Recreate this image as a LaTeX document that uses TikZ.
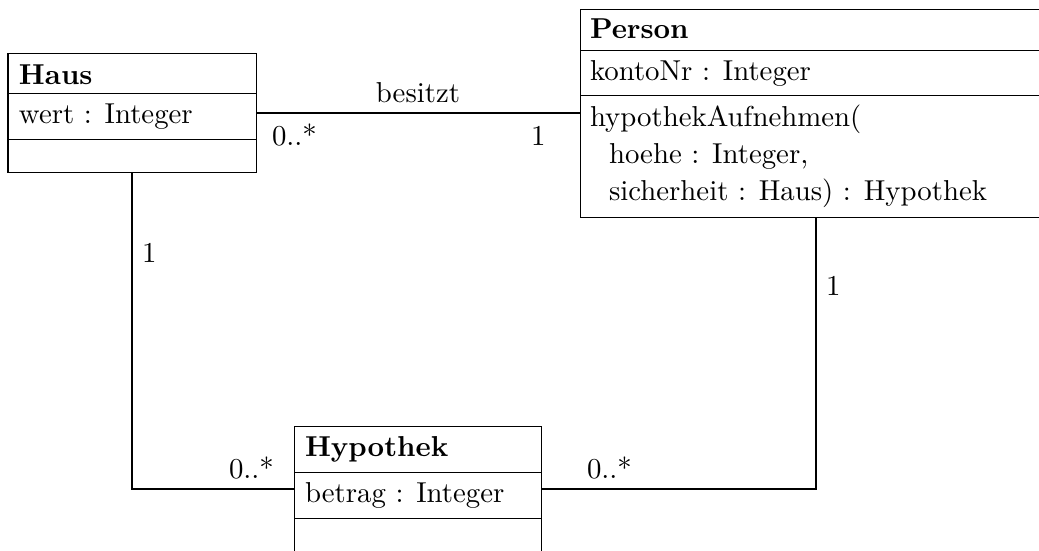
\documentclass[tikz,border=0pt]{standalone}
\usetikzlibrary{fit}
\begin{document}
\begin{tikzpicture}[x=0.3472pt, y=-0.3472pt,
  classbox/.style={draw, line width=0.35pt, inner sep=0pt, outer sep=0pt},
  sect/.style={line width=0.35pt},
  txt/.style={anchor=base west, inner sep=0pt, outer sep=0pt},
  ttl/.style={anchor=base west, inner sep=0pt, outer sep=0pt, font=\bfseries},
  mult/.style={anchor=base west, inner sep=0pt, outer sep=0pt},
  assoc/.style={line width=0.7pt}]
\useasboundingbox (0,0) rectangle (1039,550);
\clip (0,0) rectangle (1039,550);

% class boxes
\node[classbox, fit={(8,53) (256,172)}] (haus) {};
\node[classbox, fit={(580,9) (1052,217)}] (person) {};
\node[classbox, fit={(294,426) (541,553)}] (hyp) {};

% compartments
\draw[sect] (haus.west |- 0,93) -- (haus.east |- 0,93);
\draw[sect] (haus.west |- 0,139) -- (haus.east |- 0,139);
\draw[sect] (person.west |- 0,50) -- (person.east |- 0,50);
\draw[sect] (person.west |- 0,95) -- (person.east |- 0,95);
\draw[sect] (hyp.west |- 0,472) -- (hyp.east |- 0,472);
\draw[sect] (hyp.west |- 0,518) -- (hyp.east |- 0,518);

% texts
\node[ttl] (hausT) at (19,84) {Haus};
\node[txt] (hausA) at (19,123) {wert : Integer};
\node[ttl] (personT) at (590,38) {Person};
\node[txt] (personA) at (590,80) {kontoNr : Integer};
\node[txt] (personO1) at (590,126) {hypothekAufnehmen(};
\node[txt] (personO2) at (609,163) {hoehe : Integer,};
\node[txt] (personO3) at (609,200) {sicherheit : Haus) : Hypothek};
\node[ttl] (hypT) at (305,456) {Hypothek};
\node[txt] (hypA) at (305,502) {betrag : Integer};

% associations
\draw[assoc] (haus.east) -- (haus.east -| person.west);
\draw[assoc] (haus.south) |- (hyp.west |- 0,489);
\draw[assoc] (person.south) |- (hyp.east |- 0,489);

% labels
\node[anchor=base, inner sep=0pt] (lbes) at (418,102) {besitzt};
\node[mult] (m1) at (272,145) {0..*};
\node[mult] (m2) at (531,145) {1};
\node[mult] (m3) at (142,262) {1};
\node[mult] (m4) at (229,478) {0..*};
\node[mult] (m5) at (826,295) {1};
\node[mult] (m6) at (587,478) {0..*};
\end{tikzpicture}
\end{document}
